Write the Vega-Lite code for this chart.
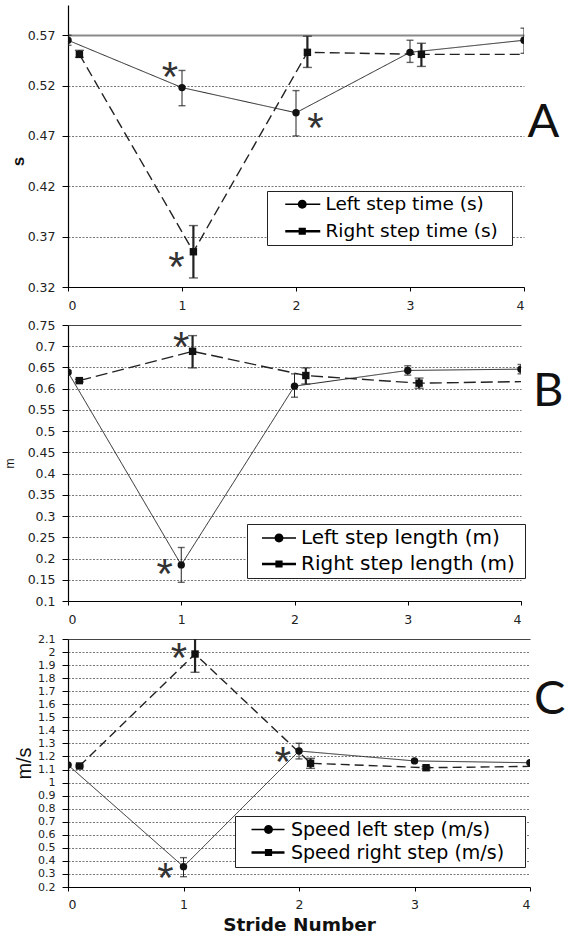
{
  "$schema": "https://vega.github.io/schema/vega-lite/v6.json",
  "background": "white",
  "padding": {"left": 3, "top": 5, "right": 0, "bottom": 0},
  "spacing": 38,
  "bounds": "flush",
  "resolve": {"scale": {"shape": "independent", "strokeDash": "independent", "strokeWidth": "independent", "size": "independent"}},
  "config": {
    "view": {"stroke": null},
    "axis": {"domainColor": "#000", "domainWidth": 1.2, "tickColor": "#000", "tickWidth": 1, "labelColor": "#222", "labelFont": "DejaVu Sans", "labelFontSize": 12.5, "labelOverlap": false, "tickSize": 6, "labelPadding": 7, "titleColor": "#111", "titleFont": "Liberation Sans"}
  },
  "datasets": {
    "timeA": [
      {"stride": 0, "series": "Left step time (s)", "mean": 0.565, "lo": 0.560, "hi": 0.570},
      {"stride": 1, "series": "Left step time (s)", "mean": 0.518, "lo": 0.500, "hi": 0.535},
      {"stride": 2, "series": "Left step time (s)", "mean": 0.493, "lo": 0.470, "hi": 0.515},
      {"stride": 3, "series": "Left step time (s)", "mean": 0.553, "lo": 0.543, "hi": 0.565},
      {"stride": 4, "series": "Left step time (s)", "mean": 0.565, "lo": 0.552, "hi": 0.577},
      {"stride": 0.1, "series": "Right step time (s)", "mean": 0.551, "lo": 0.548, "hi": 0.555},
      {"stride": 1.1, "series": "Right step time (s)", "mean": 0.355, "lo": 0.329, "hi": 0.381},
      {"stride": 2.1, "series": "Right step time (s)", "mean": 0.553, "lo": 0.538, "hi": 0.569},
      {"stride": 3.1, "series": "Right step time (s)", "mean": 0.551, "lo": 0.539, "hi": 0.562},
      {"stride": 4.1, "series": "Right step time (s)", "mean": 0.551, "lo": 0.551, "hi": 0.551}
    ],
    "lengthB": [
      {"stride": 0, "series": "Left step length (m)", "mean": 0.639, "lo": 0.635, "hi": 0.643},
      {"stride": 1, "series": "Left step length (m)", "mean": 0.185, "lo": 0.144, "hi": 0.226},
      {"stride": 2, "series": "Left step length (m)", "mean": 0.606, "lo": 0.580, "hi": 0.635},
      {"stride": 3, "series": "Left step length (m)", "mean": 0.643, "lo": 0.632, "hi": 0.654},
      {"stride": 4, "series": "Left step length (m)", "mean": 0.646, "lo": 0.635, "hi": 0.657},
      {"stride": 0.1, "series": "Right step length (m)", "mean": 0.619, "lo": 0.616, "hi": 0.622},
      {"stride": 1.1, "series": "Right step length (m)", "mean": 0.688, "lo": 0.649, "hi": 0.725},
      {"stride": 2.1, "series": "Right step length (m)", "mean": 0.631, "lo": 0.611, "hi": 0.649},
      {"stride": 3.1, "series": "Right step length (m)", "mean": 0.613, "lo": 0.601, "hi": 0.625},
      {"stride": 4.1, "series": "Right step length (m)", "mean": 0.617, "lo": 0.617, "hi": 0.617}
    ],
    "speedC": [
      {"stride": 0, "series": "Speed left step (m/s)", "mean": 1.135, "lo": 1.130, "hi": 1.140},
      {"stride": 1, "series": "Speed left step (m/s)", "mean": 0.356, "lo": 0.279, "hi": 0.425},
      {"stride": 2, "series": "Speed left step (m/s)", "mean": 1.242, "lo": 1.181, "hi": 1.301},
      {"stride": 3, "series": "Speed left step (m/s)", "mean": 1.166, "lo": 1.160, "hi": 1.172},
      {"stride": 4, "series": "Speed left step (m/s)", "mean": 1.152, "lo": 1.145, "hi": 1.160},
      {"stride": 0.1, "series": "Speed right step (m/s)", "mean": 1.127, "lo": 1.120, "hi": 1.134},
      {"stride": 1.1, "series": "Speed right step (m/s)", "mean": 1.985, "lo": 1.845, "hi": 2.126},
      {"stride": 2.1, "series": "Speed right step (m/s)", "mean": 1.148, "lo": 1.109, "hi": 1.186},
      {"stride": 3.1, "series": "Speed right step (m/s)", "mean": 1.114, "lo": 1.105, "hi": 1.123},
      {"stride": 4.1, "series": "Speed right step (m/s)", "mean": 1.125, "lo": 1.125, "hi": 1.125}
    ],
    "starsA": [
      {"stride": 0.895, "mean": 0.538, "t": "*"},
      {"stride": 2.17, "mean": 0.488, "t": "*"},
      {"stride": 0.95, "mean": 0.350, "t": "*"}
    ],
    "starsB": [
      {"stride": 1.0, "mean": 0.722, "t": "*"},
      {"stride": 0.854, "mean": 0.186, "t": "*"}
    ],
    "starsC": [
      {"stride": 0.96, "mean": 2.031, "t": "*"},
      {"stride": 1.86, "mean": 1.234, "t": "*"},
      {"stride": 0.844, "mean": 0.342, "t": "*"}
    ],
    "letterA": [{"stride": 4.17, "mean": 0.486, "t": "A"}],
    "letterB": [{"stride": 4.24, "mean": 0.599, "t": "B"}],
    "letterC": [{"stride": 4.17, "mean": 1.656, "t": "C"}]
  },
  "vconcat": [
    {
      "width": 456, "height": 282,
      "data": {"name": "timeA"},
      "resolve": {"scale": {"shape": "independent", "strokeWidth": "independent"}},
      "layer": [
        {"mark": {"type": "line", "clip": true, "color": "#222"},
         "encoding": {
           "x": {"field": "stride", "type": "quantitative", "scale": {"domain": [0, 4], "nice": false, "zero": false}, "axis": {"values": [0, 1, 2, 3, 4], "tickCount": 40, "format": "d", "grid": false, "title": null, "tickSize": 4, "labelPadding": 8}},
           "y": {"field": "mean", "type": "quantitative", "scale": {"domain": [0.32, 0.6], "nice": false, "zero": false},
                 "axis": {"values": [0.32, 0.37, 0.42, 0.47, 0.52, 0.57], "tickCount": 40, "format": ".2f", "grid": true,
                          "gridColor": {"condition": {"test": "datum.value === 0.57", "value": "#8a8a8a"}, "value": "#555"},
                          "gridDash": {"condition": {"test": "datum.value === 0.57", "value": []}, "value": [2, 1.5]},
                          "gridWidth": {"condition": {"test": "datum.value === 0.57", "value": 2}, "value": 0.8},
                          "title": "s", "titleFontSize": 17, "titleFontWeight": "bold", "titlePadding": 0, "titleY": 156}},
           "strokeDash": {"field": "series", "type": "nominal", "scale": {"domain": ["Left step time (s)", "Right step time (s)"], "range": [[1, 0], [10, 5]]}, "legend": null},
           "strokeWidth": {"field": "series", "type": "ordinal", "scale": {"domain": ["Left step time (s)", "Right step time (s)"], "range": [1, 1.4]}, "legend": null},
           "order": {"field": "stride"}
         }},
        {"mark": {"type": "rule", "clip": true, "color": "#222"},
         "encoding": {
           "x": {"field": "stride", "type": "quantitative"},
           "y": {"field": "lo", "type": "quantitative"}, "y2": {"field": "hi"},
           "strokeWidth": {"field": "series", "type": "ordinal", "scale": {"domain": ["Left step time (s)", "Right step time (s)"], "range": [1, 2.2]}, "legend": null}
         }},
        {"mark": {"type": "tick", "orient": "horizontal", "clip": true, "color": "#222", "thickness": 1.4},
         "encoding": {
           "x": {"field": "stride", "type": "quantitative"},
           "y": {"field": "lo", "type": "quantitative"},
           "size": {"field": "series", "type": "ordinal", "scale": {"domain": ["Left step time (s)", "Right step time (s)"], "range": [7, 9]}, "legend": null}
         }},
        {"mark": {"type": "tick", "orient": "horizontal", "clip": true, "color": "#222", "thickness": 1.4},
         "encoding": {
           "x": {"field": "stride", "type": "quantitative"},
           "y": {"field": "hi", "type": "quantitative"},
           "size": {"field": "series", "type": "ordinal", "scale": {"domain": ["Left step time (s)", "Right step time (s)"], "range": [7, 9]}, "legend": null}
         }},
        {"mark": {"type": "point", "filled": true, "clip": true, "color": "#111", "opacity": 1, "size": 55},
         "encoding": {
           "x": {"field": "stride", "type": "quantitative"},
           "y": {"field": "mean", "type": "quantitative"},
           "shape": {"field": "series", "type": "nominal", "scale": {"domain": ["Left step time (s)", "Right step time (s)"], "range": ["circle", "square"]}, "legend": null}
         }},
        {"transform": [{"filter": "false"}],
         "mark": {"type": "point", "filled": true, "color": "#000", "opacity": 1},
         "encoding": {
           "x": {"field": "stride", "type": "quantitative"},
           "y": {"field": "mean", "type": "quantitative"},
           "shape": {"field": "series", "type": "nominal",
                     "scale": {"domain": ["Left step time (s)", "Right step time (s)"], "range": ["M0.625,-0.09H5V0.09H0.625Z M3.31,0A0.56,0.56 0 1 1 2.19,0A0.56,0.56 0 1 1 3.31,0Z M28.3,0H28.35", "M0.625,-0.16H5V0.16H0.625Z M2.3,-0.45H3.2V0.45H2.3Z M28.3,0H28.35"]},
                     "legend": {"title": null, "orient": "none", "legendX": 199, "legendY": 186, "padding": 4, "strokeColor": "#222", "fillColor": "white", "labelFont": "DejaVu Sans", "labelFontSize": 18.5, "labelColor": "#000", "labelOffset": 36, "labelLimit": 400, "symbolSize": 256, "symbolStrokeWidth": 0, "symbolFillColor": "#000", "rowPadding": 8}}
         }},
        {"data": {"name": "starsA"},
         "mark": {"type": "text", "font": "Liberation Sans", "fontSize": 42, "color": "#333", "baseline": "alphabetic", "align": "center", "dy": 24},
         "encoding": {"x": {"field": "stride", "type": "quantitative"}, "y": {"field": "mean", "type": "quantitative"}, "text": {"field": "t"}}},
        {"data": {"name": "letterA"},
         "mark": {"type": "text", "font": "Lato", "fontSize": 47, "color": "#111", "baseline": "alphabetic", "align": "center", "dy": 17},
         "encoding": {"x": {"field": "stride", "type": "quantitative"}, "y": {"field": "mean", "type": "quantitative"}, "text": {"field": "t"}}}
      ]
    },
    {
      "width": 453, "height": 276,
      "data": {"name": "lengthB"},
      "resolve": {"scale": {"shape": "independent", "strokeWidth": "independent"}},
      "layer": [
        {"mark": {"type": "line", "clip": true, "color": "#222"},
         "encoding": {
           "x": {"field": "stride", "type": "quantitative", "scale": {"domain": [0, 4], "nice": false, "zero": false}, "axis": {"values": [0, 1, 2, 3, 4], "tickCount": 40, "format": "d", "grid": false, "title": null, "tickSize": 4, "labelPadding": 8}},
           "y": {"field": "mean", "type": "quantitative", "scale": {"domain": [0.1, 0.75], "nice": false, "zero": false},
                 "axis": {"values": [0.1, 0.15, 0.2, 0.25, 0.3, 0.35, 0.4, 0.45, 0.5, 0.55, 0.6, 0.65, 0.7, 0.75], "tickCount": 40, "format": ".2~f", "grid": true,
                          "gridColor": {"condition": {"test": "datum.value === 0.75", "value": "#444"}, "value": "#555"},
                          "gridDash": {"condition": {"test": "datum.value === 0.75", "value": []}, "value": [2, 1.5]},
                          "gridWidth": {"condition": {"test": "datum.value === 0.75", "value": 1.2}, "value": 0.8},
                          "title": "m", "titleFontSize": 12, "titleFontWeight": "normal", "titlePadding": 11}},
           "strokeDash": {"field": "series", "type": "nominal", "scale": {"domain": ["Left step length (m)", "Right step length (m)"], "range": [[1, 0], [12, 5]]}, "legend": null},
           "strokeWidth": {"field": "series", "type": "ordinal", "scale": {"domain": ["Left step length (m)", "Right step length (m)"], "range": [1, 1.4]}, "legend": null},
           "order": {"field": "stride"}
         }},
        {"mark": {"type": "rule", "clip": true, "color": "#222"},
         "encoding": {
           "x": {"field": "stride", "type": "quantitative"},
           "y": {"field": "lo", "type": "quantitative"}, "y2": {"field": "hi"},
           "strokeWidth": {"field": "series", "type": "ordinal", "scale": {"domain": ["Left step length (m)", "Right step length (m)"], "range": [1, 2.2]}, "legend": null}
         }},
        {"mark": {"type": "tick", "orient": "horizontal", "clip": true, "color": "#222", "thickness": 1.4},
         "encoding": {
           "x": {"field": "stride", "type": "quantitative"},
           "y": {"field": "lo", "type": "quantitative"},
           "size": {"field": "series", "type": "ordinal", "scale": {"domain": ["Left step length (m)", "Right step length (m)"], "range": [7, 9]}, "legend": null}
         }},
        {"mark": {"type": "tick", "orient": "horizontal", "clip": true, "color": "#222", "thickness": 1.4},
         "encoding": {
           "x": {"field": "stride", "type": "quantitative"},
           "y": {"field": "hi", "type": "quantitative"},
           "size": {"field": "series", "type": "ordinal", "scale": {"domain": ["Left step length (m)", "Right step length (m)"], "range": [7, 9]}, "legend": null}
         }},
        {"mark": {"type": "point", "filled": true, "clip": true, "color": "#111", "opacity": 1, "size": 55},
         "encoding": {
           "x": {"field": "stride", "type": "quantitative"},
           "y": {"field": "mean", "type": "quantitative"},
           "shape": {"field": "series", "type": "nominal", "scale": {"domain": ["Left step length (m)", "Right step length (m)"], "range": ["circle", "square"]}, "legend": null}
         }},
        {"transform": [{"filter": "false"}],
         "mark": {"type": "point", "filled": true, "color": "#000", "opacity": 1},
         "encoding": {
           "x": {"field": "stride", "type": "quantitative"},
           "y": {"field": "mean", "type": "quantitative"},
           "shape": {"field": "series", "type": "nominal",
                     "scale": {"domain": ["Left step length (m)", "Right step length (m)"], "range": ["M0.125,-0.09H4.375V0.09H0.125Z M2.81,0A0.56,0.56 0 1 1 1.69,0A0.56,0.56 0 1 1 2.81,0Z M32.4,0H32.45", "M0.125,-0.16H4.375V0.16H0.125Z M1.8,-0.45H2.7V0.45H1.8Z M32.4,0H32.45"]},
                     "legend": {"title": null, "orient": "none", "legendX": 179, "legendY": 199, "padding": 4, "strokeColor": "#222", "fillColor": "white", "labelFont": "DejaVu Sans", "labelFontSize": 20, "labelColor": "#000", "labelOffset": 30, "labelLimit": 400, "symbolSize": 256, "symbolStrokeWidth": 0, "symbolFillColor": "#000", "rowPadding": 6}}
         }},
        {"data": {"name": "starsB"},
         "mark": {"type": "text", "font": "Liberation Sans", "fontSize": 42, "color": "#333", "baseline": "alphabetic", "align": "center", "dy": 24},
         "encoding": {"x": {"field": "stride", "type": "quantitative"}, "y": {"field": "mean", "type": "quantitative"}, "text": {"field": "t"}}},
        {"data": {"name": "letterB"},
         "mark": {"type": "text", "font": "Lato", "fontSize": 47, "color": "#111", "baseline": "alphabetic", "align": "center", "dy": 17},
         "encoding": {"x": {"field": "stride", "type": "quantitative"}, "y": {"field": "mean", "type": "quantitative"}, "text": {"field": "t"}}}
      ]
    },
    {
      "width": 462, "height": 248,
      "data": {"name": "speedC"},
      "resolve": {"scale": {"shape": "independent", "strokeWidth": "independent"}},
      "layer": [
        {"mark": {"type": "line", "clip": true, "color": "#222"},
         "encoding": {
           "x": {"field": "stride", "type": "quantitative", "scale": {"domain": [0, 4], "nice": false, "zero": false}, "axis": {"values": [0, 1, 2, 3, 4], "tickCount": 40, "format": "d", "grid": false, "title": "Stride Number", "titleFont": "DejaVu Sans", "titleFontSize": 18.5, "titleFontWeight": "bold", "titlePadding": 5, "tickSize": 4, "labelPadding": 7}},
           "y": {"field": "mean", "type": "quantitative", "scale": {"domain": [0.2, 2.1], "nice": false, "zero": false},
                 "axis": {"values": [0.2, 0.3, 0.4, 0.5, 0.6, 0.7, 0.8, 0.9, 1, 1.1, 1.2, 1.3, 1.4, 1.5, 1.6, 1.7, 1.8, 1.9, 2, 2.1], "tickCount": 40, "format": ".1~f", "grid": true, "labelFontSize": 11,
                          "gridColor": {"condition": {"test": "datum.value === 2.1", "value": "#444"}, "value": "#555"},
                          "gridDash": {"condition": {"test": "datum.value === 2.1", "value": []}, "value": [2, 1.5]},
                          "gridWidth": {"condition": {"test": "datum.value === 2.1", "value": 1.2}, "value": 0.8},
                          "title": "m/s", "titleFontSize": 20, "titleFontWeight": "normal", "titlePadding": 3}},
           "strokeDash": {"field": "series", "type": "nominal", "scale": {"domain": ["Speed left step (m/s)", "Speed right step (m/s)"], "range": [[1, 0], [9, 5]]}, "legend": null},
           "strokeWidth": {"field": "series", "type": "ordinal", "scale": {"domain": ["Speed left step (m/s)", "Speed right step (m/s)"], "range": [1, 1.4]}, "legend": null},
           "order": {"field": "stride"}
         }},
        {"mark": {"type": "rule", "clip": true, "color": "#222"},
         "encoding": {
           "x": {"field": "stride", "type": "quantitative"},
           "y": {"field": "lo", "type": "quantitative"}, "y2": {"field": "hi"},
           "strokeWidth": {"field": "series", "type": "ordinal", "scale": {"domain": ["Speed left step (m/s)", "Speed right step (m/s)"], "range": [1, 2.2]}, "legend": null}
         }},
        {"mark": {"type": "tick", "orient": "horizontal", "clip": true, "color": "#222", "thickness": 1.4},
         "encoding": {
           "x": {"field": "stride", "type": "quantitative"},
           "y": {"field": "lo", "type": "quantitative"},
           "size": {"field": "series", "type": "ordinal", "scale": {"domain": ["Speed left step (m/s)", "Speed right step (m/s)"], "range": [7, 9]}, "legend": null}
         }},
        {"mark": {"type": "tick", "orient": "horizontal", "clip": true, "color": "#222", "thickness": 1.4},
         "encoding": {
           "x": {"field": "stride", "type": "quantitative"},
           "y": {"field": "hi", "type": "quantitative"},
           "size": {"field": "series", "type": "ordinal", "scale": {"domain": ["Speed left step (m/s)", "Speed right step (m/s)"], "range": [7, 9]}, "legend": null}
         }},
        {"mark": {"type": "point", "filled": true, "clip": true, "color": "#111", "opacity": 1, "size": 55},
         "encoding": {
           "x": {"field": "stride", "type": "quantitative"},
           "y": {"field": "mean", "type": "quantitative"},
           "shape": {"field": "series", "type": "nominal", "scale": {"domain": ["Speed left step (m/s)", "Speed right step (m/s)"], "range": ["circle", "square"]}, "legend": null}
         }},
        {"transform": [{"filter": "false"}],
         "mark": {"type": "point", "filled": true, "color": "#000", "opacity": 1},
         "encoding": {
           "x": {"field": "stride", "type": "quantitative"},
           "y": {"field": "mean", "type": "quantitative"},
           "shape": {"field": "series", "type": "nominal",
                     "scale": {"domain": ["Speed left step (m/s)", "Speed right step (m/s)"], "range": ["M0.375,-0.09H4.5V0.09H0.375Z M3.06,0A0.56,0.56 0 1 1 1.94,0A0.56,0.56 0 1 1 3.06,0Z M34,0H34.05", "M0.375,-0.16H4.5V0.16H0.375Z M2.05,-0.45H2.95V0.45H2.05Z M34,0H34.05"]},
                     "legend": {"title": null, "orient": "none", "legendX": 167, "legendY": 177, "padding": 4, "strokeColor": "#222", "fillColor": "white", "labelFont": "DejaVu Sans", "labelFontSize": 19, "labelColor": "#000", "labelOffset": 33, "labelLimit": 400, "symbolSize": 256, "symbolStrokeWidth": 0, "symbolFillColor": "#000", "rowPadding": 3}}
         }},
        {"data": {"name": "starsC"},
         "mark": {"type": "text", "font": "Liberation Sans", "fontSize": 42, "color": "#333", "baseline": "alphabetic", "align": "center", "dy": 24},
         "encoding": {"x": {"field": "stride", "type": "quantitative"}, "y": {"field": "mean", "type": "quantitative"}, "text": {"field": "t"}}},
        {"data": {"name": "letterC"},
         "mark": {"type": "text", "font": "Lato", "fontSize": 47, "color": "#111", "baseline": "alphabetic", "align": "center", "dy": 17},
         "encoding": {"x": {"field": "stride", "type": "quantitative"}, "y": {"field": "mean", "type": "quantitative"}, "text": {"field": "t"}}}
      ]
    }
  ]
}
